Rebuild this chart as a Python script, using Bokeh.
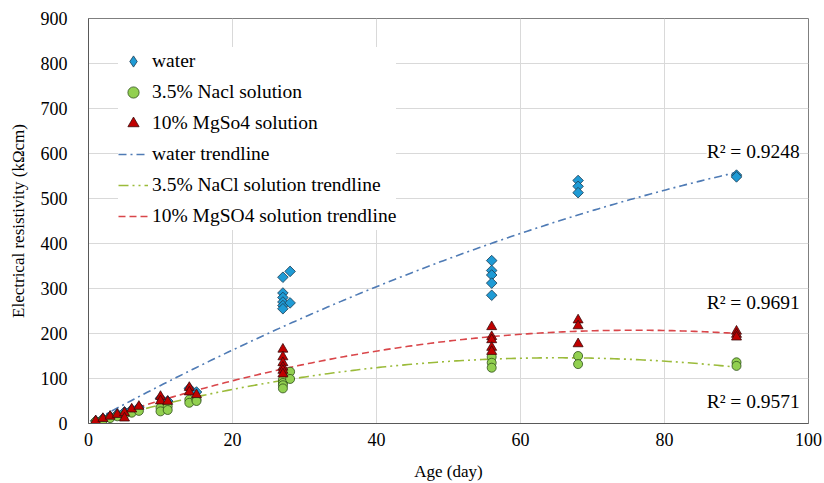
import numpy as np
from bokeh.plotting import figure
from bokeh.models import ColumnDataSource, Legend, LegendItem, Label, FixedTicker
from bokeh.embed import file_html
from bokeh.resources import INLINE

# ---- data ----
water_age = [1, 2, 3, 4, 5, 6, 7, 10, 11, 14, 15,
             27, 27, 27, 27, 27, 27, 28, 28,
             56, 56, 56, 56, 56, 68, 68, 68, 90, 90]
water_res = [6, 11, 16, 21, 26, 31, 36, 56, 50, 78, 70,
             325, 290, 280, 270, 262, 255, 338, 268,
             362, 340, 330, 312, 285, 540, 527, 513, 552, 548]

nacl_age = [1, 2, 3, 4, 5, 6, 7, 10, 10, 11, 11, 14, 14, 15, 15,
            27, 27, 27, 27, 28, 28, 56, 56, 56, 68, 68, 90, 90]
nacl_res = [4, 8, 12, 16, 20, 24, 28, 35, 27, 38, 30, 53, 46, 53, 50,
            97, 90, 85, 78, 115, 99, 148, 135, 124, 150, 132, 136, 128]

mgso4_age = [1, 2, 3, 4, 5, 5, 6, 7, 10, 10, 11, 14, 14, 15,
             27, 27, 27, 27, 27, 27, 56, 56, 56, 56, 56, 68, 68, 68, 90, 90, 90]
mgso4_res = [6, 11, 16, 20, 24, 12, 32, 38, 60, 50, 49, 80, 70, 64,
             165, 148, 135, 125, 118, 110, 215, 193, 186, 169, 160, 230, 217, 177, 205, 198, 192]

# quadratic trendline coefficients (a*x^2 + b*x + c)
water_trend = [-0.028, 8.72, 0.0]
nacl_trend = [-0.03425, 4.472, 0.0]
mgso4_trend = [-0.036, 5.463, 0.0]
trend_range = [1, 90]

r2_labels = ["R² = 0.9248", "R² = 0.9691", "R² = 0.9571"]
r2_y = [605, 268, 49]

x_ticks = [0, 20, 40, 60, 80, 100]
y_ticks = [0, 100, 200, 300, 400, 500, 600, 700, 800, 900]

FONT = "Liberation Serif"

p = figure(width=824, height=483, x_range=(0, 100), y_range=(0, 900),
           output_backend="svg", toolbar_location=None,
           min_border_left=88, min_border_right=16, min_border_top=18, min_border_bottom=59)

p.xaxis.ticker = FixedTicker(ticks=x_ticks)
p.yaxis.ticker = FixedTicker(ticks=y_ticks)
for ax in (p.xaxis[0], p.yaxis[0]):
    ax.major_tick_line_color = None
    ax.minor_tick_line_color = None
    ax.axis_line_color = "#595959"
    ax.major_label_text_font = FONT
    ax.major_label_text_font_size = "18px"
    ax.major_label_text_color = "#000000"
    ax.axis_label_text_font = FONT
    ax.axis_label_text_font_style = "normal"
    ax.axis_label_text_color = "#000000"
p.xaxis.axis_label = "Age (day)"
p.yaxis.axis_label = "Electrical resistivity (kΩcm)"
p.xaxis.axis_label_text_font_size = "17px"
p.yaxis.axis_label_text_font_size = "17px"
p.xaxis.major_label_standoff = 3
p.yaxis.major_label_standoff = 15
p.xaxis.axis_label_standoff = 13
p.yaxis.axis_label_standoff = 10

p.xgrid.grid_line_color = "#d9d9d9"
p.ygrid.grid_line_color = "#d9d9d9"
p.outline_line_color = "#7f7f7f"
p.background_fill_color = "white"

tx = np.linspace(trend_range[0], trend_range[1], 200)
def curve(c):
    return np.polyval(c, tx)

lw = p.line(tx, curve(water_trend), line_color="#4f7bb5", line_width=1.6, line_dash="8 4 2 4")
ln = p.line(tx, curve(nacl_trend), line_color="#9bbb3a", line_width=1.6, line_dash="10 4 2 4 2 4")
lm = p.line(tx, curve(mgso4_trend), line_color="#d9464a", line_width=1.6, line_dash="7 4")

sw = ColumnDataSource(dict(x=water_age, y=water_res))
sn = ColumnDataSource(dict(x=nacl_age, y=nacl_res))
sm = ColumnDataSource(dict(x=mgso4_age, y=mgso4_res))

WATER_FILL, WATER_LINE = "#1f9bd5", "#1a3a50"
rw = p.scatter("x", "y", source=sw, marker="square", angle=np.pi / 4, size=7.5,
               fill_color=WATER_FILL, line_color=WATER_LINE, line_width=0.8)
# legend-only glyph for the diamond symbol
rw_leg = p.scatter(x=[np.nan], y=[np.nan], marker="diamond", size=12,
                   fill_color=WATER_FILL, line_color=WATER_LINE, line_width=0.8)
rn = p.scatter("x", "y", source=sn, marker="circle", size=9, fill_color="#92d050",
               line_color="#2f4f1a", line_width=0.8)
rm = p.scatter("x", "y", source=sm, marker="triangle", size=10, fill_color="#c00000",
               line_color="#3a0a0a", line_width=0.8)

legend = Legend(items=[
    LegendItem(label="water", renderers=[rw_leg]),
    LegendItem(label="3.5% Nacl solution", renderers=[rn]),
    LegendItem(label="10% MgSo4 solution", renderers=[rm]),
    LegendItem(label="water trendline", renderers=[lw]),
    LegendItem(label="3.5% NaCl solution trendline", renderers=[ln]),
    LegendItem(label="10% MgSO4 solution trendline", renderers=[lm]),
], location=(30, 193))
legend.margin = 0
legend.padding = 10
legend.glyph_width = 30
legend.glyph_height = 28
legend.label_height = 28
legend.spacing = 3
legend.label_standoff = 4
legend.label_text_font = FONT
legend.label_text_font_size = "19.5px"
legend.label_text_color = "#000000"
legend.border_line_color = None
legend.background_fill_color = "white"
legend.background_fill_alpha = 1.0
p.add_layout(legend)

for txt, yv in zip(r2_labels, r2_y):
    p.add_layout(Label(x=98.8, y=yv, text=txt, text_align="right", text_baseline="middle",
                       text_font=FONT, text_font_size="19.5px", text_color="#000000",
                       background_fill_color="white", background_fill_alpha=1.0))

open("out.html", "w").write(file_html(p, INLINE))
